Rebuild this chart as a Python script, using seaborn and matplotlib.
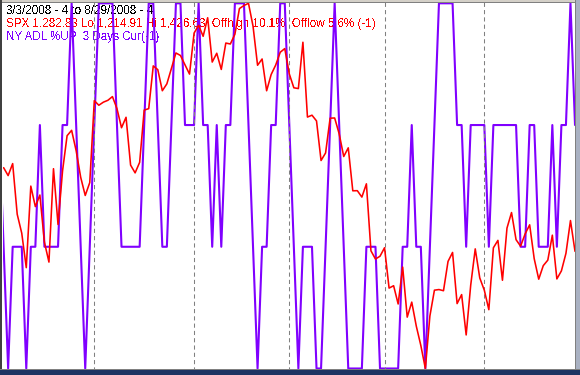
import matplotlib
matplotlib.use("Agg")
import matplotlib.pyplot as plt
import numpy as np
import pandas as pd
import seaborn as sns
from matplotlib.patches import Rectangle

# ---------------- data ----------------
month_days = [20, 22, 21, 21, 22, 21]  # trading days Mar..Aug 2008

spx_mar = [1331.34, 1326.75, 1333.70, 1304.34, 1293.37, 1273.37, 1320.65, 1308.77, 1315.48, 1288.14,
           1276.60, 1330.74, 1298.42, 1329.51, 1349.88, 1352.99, 1341.13, 1325.76, 1315.22, 1322.70]
spx_apr = [1370.18, 1367.53, 1369.31, 1370.40, 1372.54, 1365.54, 1354.49, 1360.55, 1332.83, 1328.32,
           1334.43, 1364.71, 1365.56, 1390.33, 1388.17, 1375.94, 1379.93, 1388.82, 1397.84, 1396.37,
           1390.94, 1385.59]
spx_may = [1409.34, 1413.90, 1407.49, 1418.26, 1392.57, 1397.68, 1388.28, 1403.58, 1403.04, 1408.66,
           1423.57, 1425.35, 1426.63, 1413.40, 1390.71, 1394.35, 1375.93, 1385.35, 1390.84, 1398.26,
           1400.38]
spx_jun = [1385.67, 1377.65, 1377.20, 1404.05, 1360.68, 1361.76, 1358.44, 1335.49, 1339.87, 1360.03,
           1360.14, 1350.93, 1337.81, 1342.83, 1317.93, 1318.00, 1314.29, 1321.97, 1283.15, 1278.38,
           1280.00]
spx_jul = [1284.91, 1261.52, 1262.90, 1252.31, 1273.70, 1244.69, 1253.39, 1239.49, 1228.30, 1214.91,
           1245.36, 1260.32, 1260.68, 1260.00, 1277.00, 1282.19, 1252.54, 1257.76, 1234.37, 1263.20,
           1284.26, 1267.38]
spx_aug = [1260.31, 1249.01, 1284.88, 1289.19, 1266.07, 1296.32, 1305.32, 1289.59, 1285.83, 1292.93,
           1298.20, 1278.60, 1266.69, 1274.54, 1277.72, 1292.20, 1266.84, 1271.51, 1281.66, 1300.68,
           1282.83]

# NY ADL: number of up days in the last 3 days (0..3); first value is the day before the window
adl_prev = [2]
adl_mar = [1, 0, 1, 1, 1, 0, 1, 1, 2, 1, 1, 1, 1, 2, 2, 3, 2, 1, 0, 1]
adl_apr = [2, 3, 3, 3, 3, 2, 1, 1, 1, 1, 1, 2, 3, 3, 2, 1, 1, 2, 3, 3, 2, 2]
adl_may = [2, 3, 2, 2, 1, 2, 1, 2, 2, 3, 3, 3, 2, 1, 0, 1, 1, 2, 2, 3, 3]
adl_jun = [2, 1, 0, 1, 1, 1, 0, 0, 1, 2, 3, 2, 1, 0, 0, 0, 0, 1, 1, 1, 0]
adl_jul = [0, 0, 0, 0, 1, 1, 2, 1, 1, 0, 1, 2, 3, 3, 3, 3, 2, 2, 1, 2, 2, 2]
adl_aug = [2, 1, 2, 2, 2, 2, 2, 2, 1, 1, 2, 2, 1, 1, 1, 2, 1, 2, 2, 3, 2]

title_line = "3/3/2008 - 4 to 8/29/2008 - 4"
spx_line = "SPX 1,282.83 Lo 1,214.91 Hi 1,426.63  Offhigh 10.1%  Offlow 5.6% (-1)"
adl_line = "NY ADL %UP  3 Days Cur(-1)"

# ---------------- frames ----------------
spx = spx_mar + spx_apr + spx_may + spx_jun + spx_jul + spx_aug
adl = adl_prev + adl_mar + adl_apr + adl_may + adl_jun + adl_jul + adl_aug
df_spx = pd.DataFrame({"day": np.arange(len(spx)), "spx": spx})
df_adl = pd.DataFrame({"day": np.arange(-1, len(adl) - 1), "pct": np.array(adl) * 100.0 / 3.0})
month_starts = np.cumsum(month_days)[:-1]

# ---------------- figure ----------------
sns.set_style("white")
plt.rcParams["font.family"] = ["Liberation Sans", "DejaVu Sans"]

W, H = 580, 375
fig = plt.figure(figsize=(W / 100, H / 100), dpi=100)
fig.patch.set_facecolor("white")

ax_l, ax_r, ax_t, ax_b = 3, 575, 2, 371
ax = fig.add_axes([ax_l / W, (H - ax_b) / H, (ax_r - ax_l) / W, (ax_b - ax_t) / H])
ax.set_facecolor("white")
ax2 = ax.twinx()

# x mapping: pixel = 3.6 + 4.535 * day
x0, dx = 3.6, 4.535
xlim = ((ax_l - x0) / dx, (ax_r - x0) / dx)

def ylims(hi, lo, ptop=3.3, pbot=368.5):
    s = (pbot - ptop) / (hi - lo)
    return lo - (ax_b - pbot) / s, hi + (ptop - ax_t) / s

hi, lo = max(spx), min(spx)
for a in (ax, ax2):
    a.set_xlim(*xlim)
    a.set_xticks([])
    a.set_yticks([])
    for s in a.spines.values():
        s.set_visible(False)
ax.set_ylim(*ylims(hi, lo))
ax2.set_ylim(*ylims(100.0, 0.0))

for m in month_starts:
    ax.axvline(m, color="#808080", lw=0.75, ls=(0, (4, 3)), zorder=1, snap=True)

sns.lineplot(data=df_adl, x="day", y="pct", ax=ax2, color="#8000FF", lw=1.5,
             estimator=None, sort=False, zorder=3)
sns.lineplot(data=df_spx, x="day", y="spx", ax=ax, color="#FF0000", lw=1.15,
             estimator=None, sort=False, zorder=4)
ax.set_xlabel(""); ax.set_ylabel("")
ax2.set_xlabel(""); ax2.set_ylabel("")
ax.set_zorder(2)
ax.patch.set_visible(False)
ax2.set_zorder(1)
ax2.patch.set_visible(False)
ax.set_xlim(*xlim)
ax2.set_xlim(*xlim)

fs = 8.4
def ftext(px, py, s, c):
    t = fig.text(px / W, 1 - py / H, s, color=c, fontsize=fs, va="baseline", ha="left", zorder=0)
    t.set_antialiased(False)
ftext(6, 13.5, title_line, "black")
ftext(6, 26.5, spx_line, "#FF0000")
ftext(6, 40, adl_line, "#8000FF")

def frect(x, y, w, h, c):
    fig.patches.append(Rectangle((x / W, 1 - (y + h) / H), w / W, h / H, transform=fig.transFigure,
                                 facecolor=c, edgecolor="none", zorder=10))
frect(0, 0, W, 2, "#D4D0C8")
frect(0, 2, W, 1, "#808080")
frect(0, 0, 2, H, "#404040")
frect(575, 0, 5, H, "#A9B1C2")
frect(575, 0, 1, H, "#808080")
frect(0, 370, W, 5, "#1E3362")
frect(0, 369, W, 1, "#808080")

fig.savefig("out.png", dpi=100, facecolor=fig.get_facecolor())
